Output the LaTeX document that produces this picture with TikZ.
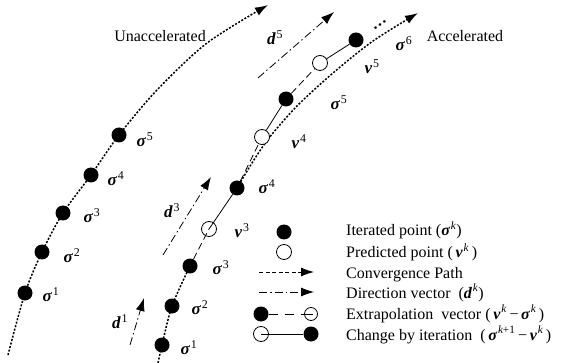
\documentclass[tikz,border=0pt]{standalone}
\usepackage{fontspec}
\setmainfont{Liberation Serif}
\usetikzlibrary{arrows.meta}
\newcommand\bsig{{\bfseries\itshape σ}}
\newcommand\bvv{{\bfseries\itshape v}}
\newcommand\bdd{{\bfseries\itshape d}}
\newcommand\supr[1]{\kern1pt\textsuperscript{#1}}
\begin{document}
\begin{tikzpicture}[x=1pt,y=-1pt,
  font=\fontsize{16}{19}\selectfont,
  fdot/.style={circle,fill=black,minimum size=15pt,inner sep=0pt},
  odot/.style={circle,draw,fill=white,line width=0.8pt,minimum size=15pt,inner sep=0pt},
  ocirc/.style={circle,draw,line width=0.8pt,minimum size=15pt,inner sep=0pt},
  sodot/.style={circle,draw,fill=white,line width=0.8pt,minimum size=13pt,inner sep=0pt},
  conv/.style={line width=1.5pt,dash pattern=on 2pt off 1.6pt},
  extrap/.style={line width=0.8pt,dash pattern=on 7pt off 4pt},
  chg/.style={line width=0.8pt},
  dirv/.style={line width=0.8pt,dash pattern=on 8pt off 3pt on 1.5pt off 3pt},
  tip/.style={-{Latex[length=13pt,width=9pt]}},
  lbl/.style={inner sep=0pt,font=\fontsize{17}{20}\selectfont},
  legt/.style={anchor=base west,inner sep=0pt}]
\useasboundingbox (0,0) rectangle (567,363);

% ---------- Unaccelerated ----------
\coordinate (u0) at (8,355);
\coordinate (u1) at (25,293);
\coordinate (u2) at (42,252);
\coordinate (u3) at (63,213);
\coordinate (u4) at (91,175);
\coordinate (u5) at (119,135);
\coordinate (ua) at (157,90);
\coordinate (ub) at (207,43);
\coordinate (uend) at (268,5);
\draw[conv,tip] plot[smooth,tension=0.5] coordinates {(u0) (u1) (u2) (u3) (u4) (u5) (ua) (ub) (uend)};
\foreach \i in {1,...,5} \node[fdot] (U\i) at (u\i) {};
\node[lbl] (Ul1) at (51,295) {\bsig\supr{1}};
\node[lbl] (Ul2) at (72,256) {\bsig\supr{2}};
\node[lbl] (Ul3) at (92,216) {\bsig\supr{3}};
\node[lbl] (Ul4) at (116,179) {\bsig\supr{4}};
\node[lbl] (Ul5) at (145,140) {\bsig\supr{5}};
\node[inner sep=0pt] (UT) at (160,36) {Unaccelerated};

% ---------- Accelerated ----------
\coordinate (a0) at (158,363);
\coordinate (s1) at (162,345);
\coordinate (s2) at (172,306);
\coordinate (s3) at (190,266);
\coordinate (v3) at (209,229);
\coordinate (s4) at (237,188);
\coordinate (v4) at (262,137);
\coordinate (s5) at (286,99);
\coordinate (v5) at (320,63);
\coordinate (s6) at (356,40);
\coordinate (p1) at (252,163);
\coordinate (p2) at (269,138);
\coordinate (p3) at (297,106);
\coordinate (p4) at (333,73);
\coordinate (p5) at (373,41);
\coordinate (pend) at (418,13);

\draw[conv] plot[smooth,tension=0.5] coordinates {(a0) (s1) (s2) (s3)};
\draw[conv,tip] plot[smooth,tension=0.5] coordinates {(s4) (p1) (p2) (p3) (p4) (p5) (pend)};

\node[fdot] (S1) at (s1) {};
\node[fdot] (S2) at (s2) {};
\node[fdot] (S3) at (s3) {};
\node[ocirc] (V3) at (v3) {};
\node[fdot] (S4) at (s4) {};
\node[odot] (V4) at (v4) {};
\node[fdot] (S5) at (s5) {};
\node[odot] (V5) at (v5) {};
\node[fdot] (S6) at (s6) {};

\draw[extrap] (S3) -- (V3.center);
\draw[chg] (V3.center) -- (S4);
\draw[extrap] (S4) -- (V4);
\draw[chg] (V4) -- (S5);
\draw[extrap] (S5) -- (V5);
\draw[chg] (V5) -- (S6);

\node[lbl] (Al1) at (189,348) {\bsig\supr{1}};
\node[lbl] (Al2) at (200,308) {\bsig\supr{2}};
\node[lbl] (Al3) at (221,268) {\bsig\supr{3}};
\node[lbl] (Av3) at (242,231) {\bvv\supr{3}};
\node[lbl] (Al4) at (267,187) {\bsig\supr{4}};
\node[lbl] (Av4) at (299,142) {\bvv\supr{4}};
\node[lbl] (Al5) at (339,103) {\bsig\supr{5}};
\node[lbl] (Av5) at (372,67) {\bvv\supr{5}};
\node[lbl] (Al6) at (404,44) {\bsig\supr{6}};
\node[inner sep=0pt,rotate=35] (dots) at (380,25) {\bfseries …};
\node[inner sep=0pt] (AT) at (465,36) {Accelerated};

% ---------- Direction vectors ----------
\coordinate (d1a) at (130,345);
\coordinate (d1b) at (144,298);
\coordinate (d3a) at (163,255);
\coordinate (d3b) at (211,177);
\coordinate (d5a) at (258,78);
\coordinate (d5b) at (334,12);
\draw[dirv,tip] (d1a) -- (d1b);
\draw[dirv,tip] (d3a) -- (d3b);
\draw[dirv,tip] (d5a) -- (d5b);
\node[lbl] (D1) at (120,322) {\bdd\supr{1}};
\node[lbl] (D3) at (172,211) {\bdd\supr{3}};
\node[lbl] (D5) at (275,38) {\bdd\supr{5}};

% ---------- Legend ----------
\node[fdot] (L1) at (284,232) {};
\node[odot] (L2) at (284,252) {};
\coordinate (L3a) at (259,272);
\coordinate (L3b) at (314,272);
\draw[line width=1pt,dash pattern=on 4pt off 2.5pt,tip] (L3a) -- (L3b);
\coordinate (L4a) at (259,292);
\coordinate (L4b) at (314,292);
\draw[dirv,tip] (L4a) -- (L4b);
\node[fdot] (L5a) at (261,314) {};
\node[sodot] (L5b) at (311,314) {};
\draw[extrap,dash pattern=on 9pt off 7pt] (L5a) -- (L5b);
\draw[line width=0.8pt] (L5b.west) -- ([xshift=2pt]L5b.center);
\node[ocirc] (L6a) at (261,334) {};
\node[fdot] (L6b) at (311,334) {};
\draw[chg] (L6a.center) -- (L6b);

\node[legt] (T1) at (346,236) {Iterated point (\bsig\supr{\itshape k})};
\node[legt] (T2) at (346,258) {Predicted point (\,\bvv\supr{\itshape k}\,)};
\node[legt] (T3) at (346,278) {Convergence Path};
\node[legt] (T4) at (346,298) {Direction vector~~(\bdd\supr{\itshape k})};
\node[legt] (T5) at (346,319) {Extrapolation~~vector (\,\bvv\supr{\itshape k}\,−\,\bsig\supr{\itshape k}\,)};
\node[legt] (T6) at (346,340) {Change by iteration~~(\,\bsig\supr{\itshape k\upshape +1}\,−\,\bvv\supr{\itshape k}\,)};
\end{tikzpicture}
\end{document}
